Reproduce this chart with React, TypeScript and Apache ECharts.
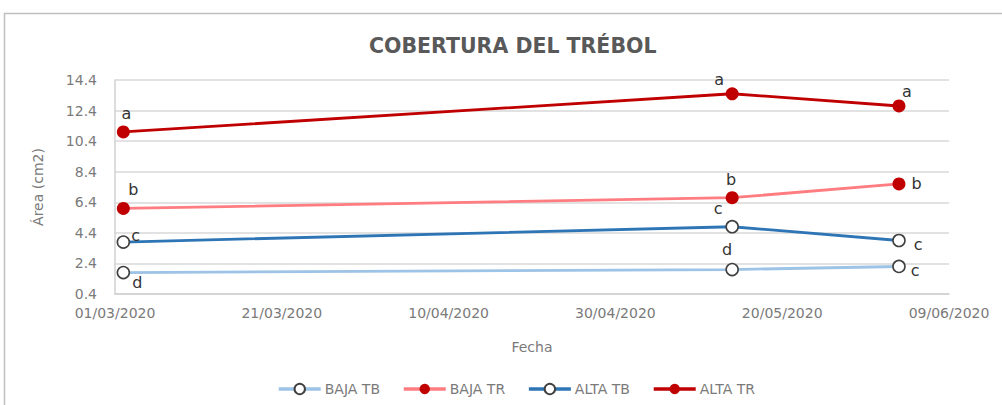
import React, { useEffect, useRef } from "react";
import * as echarts from "echarts";

const chartTitle = "COBERTURA DEL TRÉBOL";
const seriesNames = ["BAJA TB", "BAJA TR", "ALTA TB", "ALTA TR"];
const sampleDates = ["2020-03-02", "2020-05-14", "2020-06-03"];
const bajaTB = [1.8, 2.0, 2.2];
const bajaTR = [6.0, 6.7, 7.6];
const altaTB = [3.8, 4.8, 3.9];
const altaTR = [11.0, 13.5, 12.7];
const bajaTBLetters = ["d", "d", "c"];
const bajaTRLetters = ["b", "b", "b"];
const altaTBLetters = ["c", "c", "c"];
const altaTRLetters = ["a", "a", "a"];
const yTicks = [0.4, 2.4, 4.4, 6.4, 8.4, 10.4, 12.4, 14.4];
const xStart = "2020-03-01";
const xEnd = "2020-06-09";
const xStepDays = 20;

const DAY = 86400000;
const toDays = (d: string) => (Date.parse(d) - Date.parse(xStart)) / DAY;
const fmtDate = (v: number) => {
  const d = new Date(Date.parse(xStart) + Math.round(v) * DAY);
  const dd = String(d.getUTCDate()).padStart(2, "0");
  const mm = String(d.getUTCMonth() + 1).padStart(2, "0");
  return `${dd}/${mm}/${d.getUTCFullYear()}`;
};

const FONT = "DejaVu Sans";
const TITLE_GRAY = "#595959";
const GRAY = "#7A7A7A";

type LabelCfg = { position: string; offset: [number, number] };

const labelLayouts: Record<string, LabelCfg[]> = {
  "BAJA TB": [
    { position: "right", offset: [-3, 10] },
    { position: "top", offset: [-5, 0] },
    { position: "right", offset: [0, 4] },
  ],
  "BAJA TR": [
    { position: "top", offset: [10, 1] },
    { position: "top", offset: [-1, 1] },
    { position: "right", offset: [1, 0] },
  ],
  "ALTA TB": [
    { position: "right", offset: [-4, -7] },
    { position: "top", offset: [-14, 2] },
    { position: "right", offset: [3, 4] },
  ],
  "ALTA TR": [
    { position: "top", offset: [3, 1] },
    { position: "top", offset: [-13, 5] },
    { position: "top", offset: [8, 5] },
  ],
};

const seriesValues = [bajaTB, bajaTR, altaTB, altaTR];
const seriesLetters = [bajaTBLetters, bajaTRLetters, altaTBLetters, altaTRLetters];
const lineColors = ["#9DC3E6", "#FF7C80", "#2E75B6", "#C00000"];
const hollow = [true, false, true, false];

export default function App() {
  const ref = useRef<HTMLDivElement>(null);
  useEffect(() => {
    if (!ref.current) return;
    const chart = echarts.init(ref.current, undefined, { renderer: "svg" });
    const series = seriesNames.map((name, si) => ({
      name,
      type: "line",
      data: sampleDates.map((d, i) => ({
        value: [toDays(d), seriesValues[si][i]],
        label: {
          show: true,
          formatter: seriesLetters[si][i],
          position: labelLayouts[name][i].position,
          offset: labelLayouts[name][i].offset,
          color: "#333333",
          fontSize: 16,
          fontFamily: FONT,
        },
      })),
      symbol: "circle",
      symbolSize: hollow[si] ? 12 : 13,
      lineStyle: { color: lineColors[si], width: 2.8 },
      itemStyle: hollow[si]
        ? { color: "#ffffff", borderColor: "#404040", borderWidth: 1.6 }
        : { color: "#C00000", borderColor: "#C00000", borderWidth: 0 },
      z: 2 + si,
    }));

    chart.setOption({
      animation: false,
      backgroundColor: "#ffffff",
      title: {
        text: chartTitle,
        left: 364,
        top: 30,
        textStyle: { color: TITLE_GRAY, fontSize: 20.5, fontWeight: "bold", fontFamily: FONT },
      },
      graphic: [
        {
          type: "rect",
          shape: { x: 4.5, y: 13.5, width: 1100, height: 500 },
          style: { fill: "none", stroke: "#BFBFBF", lineWidth: 1.5 },
          silent: true,
        },
      ],
      legend: {
        data: seriesNames,
        left: 272,
        top: 377,
        itemWidth: 42,
        itemHeight: 13,
        itemGap: 22,
        lineStyle: { width: 3.5 },
        textStyle: { color: GRAY, fontSize: 14, fontFamily: FONT, padding: [0, 0, 0, -1] },
      },
      grid: { left: 115, right: 53, top: 80, bottom: 111, containLabel: false },
      xAxis: {
        type: "value",
        min: toDays(xStart),
        max: toDays(xEnd),
        interval: xStepDays,
        name: "Fecha",
        nameLocation: "middle",
        nameGap: 46,
        nameTextStyle: { color: GRAY, fontSize: 14, fontFamily: FONT },
        axisLine: { show: true, lineStyle: { color: "#D0D0D0", width: 1.5 } },
        axisTick: { show: false },
        splitLine: { show: false },
        axisLabel: {
          color: GRAY,
          fontSize: 14,
          fontFamily: FONT,
          margin: 12,
          formatter: (v: number) => fmtDate(v),
        },
      },
      yAxis: {
        type: "value",
        min: yTicks[0],
        max: yTicks[yTicks.length - 1],
        name: "Área (cm2)",
        nameLocation: "middle",
        nameGap: 70,
        nameRotate: 90,
        nameTextStyle: { color: GRAY, fontSize: 14, fontFamily: FONT },
        axisLine: { show: true, lineStyle: { color: "#D0D0D0", width: 1.5 } },
        axisTick: { show: false, customValues: yTicks },
        splitLine: { show: true, lineStyle: { color: "#D9D9D9", width: 1.5 } },
        axisLabel: {
          customValues: yTicks,
          color: GRAY,
          fontSize: 14,
          fontFamily: FONT,
          margin: 18,
          formatter: (v: number) => v.toFixed(1),
        },
      },
      series,
    } as any);
    return () => chart.dispose();
  }, []);
  return (
    <div
      ref={ref}
      style={{ position: "absolute", left: 0, top: 0, width: 1002, height: 405 }}
    />
  );
}
